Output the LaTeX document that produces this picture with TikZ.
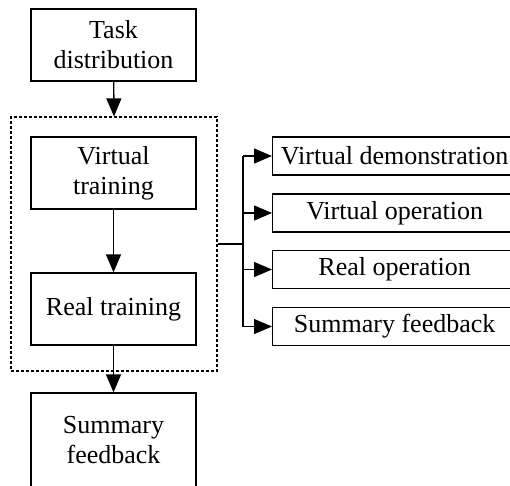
\documentclass[tikz,border=0pt]{standalone}
\usepackage{fontspec}
\setmainfont{Liberation Serif}
\usetikzlibrary{positioning, arrows.meta}

\begin{document}
\begin{tikzpicture}[
        x=1pt, y=-1pt,
        box/.style={draw, line width=1.3pt, minimum width=165pt, minimum height=72pt, align=center, font=\fontsize{26}{30}\selectfont, inner sep=0pt},
        subbox/.style={draw, line width=1.3pt, anchor=west, minimum width=300pt, minimum height=38pt, inner sep=0pt},
        sublabel/.style={label={[font=\fontsize{26}{30}\selectfont, xshift=-28pt]center:#1}},
        group/.style={draw, line width=1.2pt, dash pattern=on 3pt off 2pt, minimum width=206pt, minimum height=254pt, inner sep=0pt},
        arrow/.style={-{Triangle[length=18pt, width=15pt]}, line width=1.3pt}
      ]
        \clip (0,0) rectangle (510,485);
        \useasboundingbox (0,0) rectangle (510,485);
        \node[box] (task) at (113.5, 45)  {Task\\distribution};
        \node[group] (train) at (114, 244) {};
        \node[box] (virt) at (113.5, 173) {Virtual\\training};
        \node[box] (real) at (113.5, 309) {Real training};
        \node[box, minimum height=94pt] (summ) at (113.5, 440) {Summary\\feedback};
        \node[subbox, sublabel={Virtual demonstration}] (vdemo) at (272, 156)   {};
        \node[subbox, sublabel={Virtual operation}]     (vop)   at (272, 213)   {};
        \node[subbox, sublabel={Real operation}]        (rop)   at (272, 269.5) {};
        \node[subbox, sublabel={Summary feedback}]      (sfb)   at (272, 326.5) {};
        \coordinate (br) at (243, 244);
        \draw[arrow] (task) -- (train.north);
        \draw[arrow] (virt) -- (real);
        \draw[arrow] (real) -- (summ);
        \draw[line width=1.3pt] (train.east) -- (br);
        \draw[line width=1.3pt] (br |- vdemo.west) -- (br |- sfb.west);
        \draw[arrow] (br |- vdemo.west) -- (vdemo.west);
        \draw[arrow] (br |- vop.west) -- (vop.west);
        \draw[arrow] (br |- rop.west) -- (rop.west);
        \draw[arrow] (br |- sfb.west) -- (sfb.west);
      \end{tikzpicture}
\end{document}
